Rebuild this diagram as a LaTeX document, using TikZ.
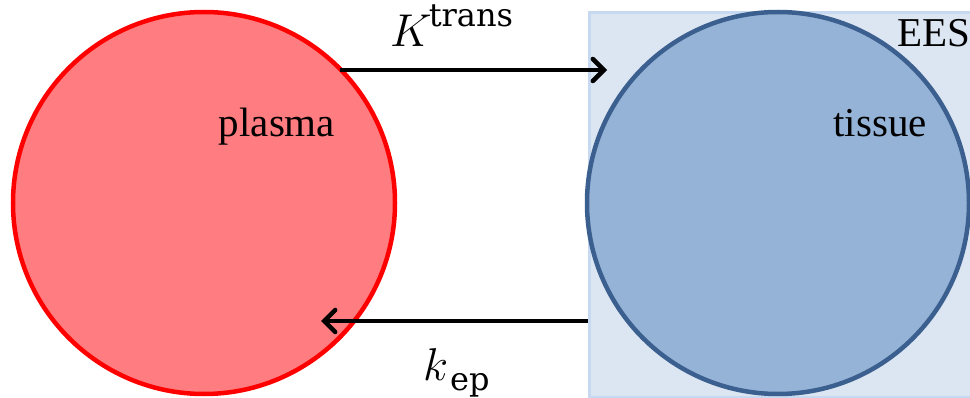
\RequirePackage{fix-cm}
\documentclass[tikz,border=0pt]{standalone}
\usepackage{fontspec}
\setmainfont{Liberation Serif}
\newfontfamily\idxfont{DejaVu Serif}
\usetikzlibrary{arrows.meta}
\definecolor{plasmafill}{HTML}{FF7C80}
\definecolor{plasmaline}{HTML}{FF0000}
\definecolor{tissuefill}{HTML}{95B3D7}
\definecolor{tissueline}{HTML}{3B5F8E}
\definecolor{eesfill}{HTML}{DCE6F2}
\definecolor{eesline}{HTML}{C6D9F1}
\newcommand{\idx}[1]{{\idxfont\fontsize{32}{38}\selectfont #1}}
\tikzset{
  compart/.style={circle, inner sep=0pt, minimum size=382pt, line width=4.5pt},
  lbl/.style={inner sep=0pt, font=\fontsize{41}{48}\selectfont},
  mlbl/.style={inner sep=0pt, font=\fontsize{46}{54}\selectfont},
  flow/.style={line width=4.5pt, -{Straight Barb[length=11pt,width=22pt,line width=4.5pt,line cap=round]}}
}
\begin{document}
\begin{tikzpicture}[x=1pt,y=-1pt]
\useasboundingbox (0,0) rectangle (970,398);
\begin{scope}
\clip (0,0) rectangle (970,398);
\node[draw=eesline, fill=eesfill, line width=3pt, rectangle, inner sep=0pt, minimum width=400pt, minimum height=385pt, anchor=north west] (ees) at (588,11) {};
\node[compart, draw=plasmaline, fill=plasmafill] (plasma) at (204,203) {};
\node[compart, draw=tissueline, fill=tissuefill] (tissue) at (778,203) {};
\end{scope}
\node[lbl, anchor=base] (plasmalbl) at (277,137) {plasma};
\node[lbl, anchor=base] (tissuelbl) at (880,137) {tissue};
\node[lbl, anchor=base west] (eeslbl) at (897,47) {EES};
\node[mlbl, anchor=base west] (ktrans) at (390,47) {$K$\kern-3pt\raisebox{20pt}{\idx{trans}}};
\node[mlbl, anchor=base west] (kep) at (423,380) {$k$\kern2pt\raisebox{-10pt}{\idx{ep}}};
\coordinate (a1s) at (340,70);
\coordinate (a1e) at (607,70);
\coordinate (a2s) at (588,321);
\coordinate (a2e) at (321,321);
\draw[flow] (a1s) -- (a1e);
\draw[flow] (a2s) -- (a2e);
\end{tikzpicture}
\end{document}
